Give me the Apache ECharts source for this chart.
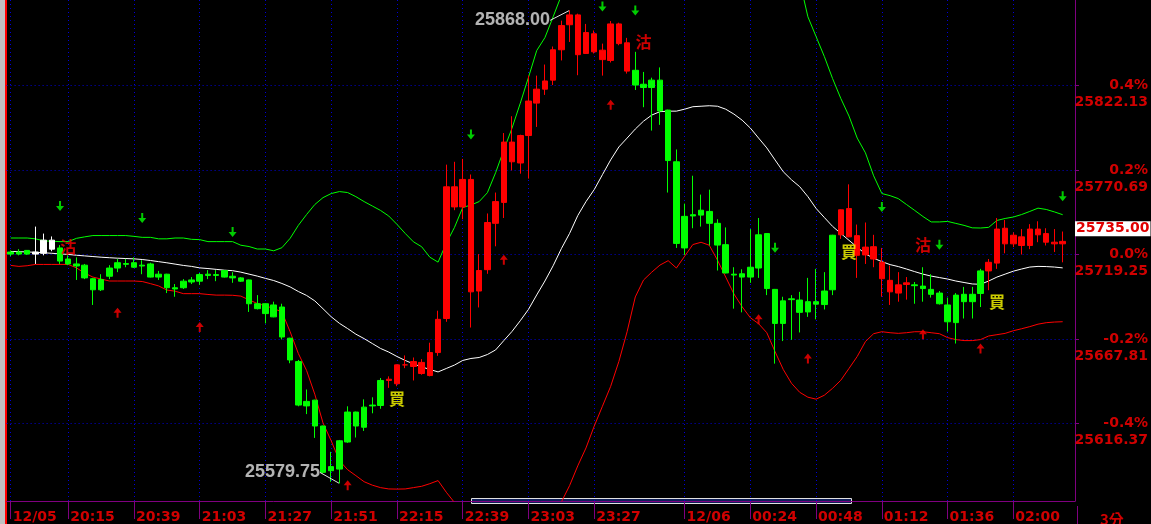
<!DOCTYPE html>
<html><head><meta charset="utf-8">
<script src="https://cdn.jsdelivr.net/npm/echarts@6/dist/echarts.min.js"></script>
<style>html,body{margin:0;padding:0;background:#000;}#c{width:1151px;height:524px;}</style>
</head><body><div id="c"></div>
<script>
// ---------- DATA ----------
const startTime = '19:54';       // first bar time, 3-minute bars
const barMinutes = 3;
const categoryCount = 130;
const tickIdx  = [0,7,15,23,31,39,47,55,63,71,82,90,98,106,114,122];
const tickText = ['12/05','20:15','20:39','21:03','21:27','21:51','22:15','22:39','23:03','23:27','12/06','00:24','00:48','01:12','01:36','02:00'];
const levelValues = [25822.13, 25770.69, 25719.25, 25667.81, 25616.37];
const levelPct    = ['0.4%', '0.2%', '0.0%', '-0.2%', '-0.4%'];
const yMin = 25569.05, yMax = 25874.33;
const tagPrice = 25735.00;
// [open, close, low, high]
const candles = [
[25720.75,25719.5,25718.25,25721.75],[25720.75,25719.5,25718.75,25722.5],[25721.75,25719.5,25719,25722],[25719.5,25720.75,25713.5,25736.25],[25720,25728,25718.75,25732],
[25722.5,25728,25721.25,25730.25],[25723.25,25715.25,25713.5,25725],[25716.5,25713.5,25712.75,25718.75],[25713.5,25712.25,25703.75,25717.5],[25712.75,25705,25704.25,25713.5],
[25704.5,25697.75,25688.5,25705],[25697.75,25704,25697,25707.25],[25706,25711,25704.25,25712.75],[25711,25714.25,25708.5,25716.5],[25713.75,25713.25,25711.5,25716.5],
[25714.25,25711.5,25711,25717.5],[25712.25,25712.75,25707.25,25715.75],[25713.5,25705.5,25705.25,25714.25],[25705.5,25707.25,25703.75,25709.25],[25707.25,25699,25695.75,25707.5],
[25699,25698.25,25693.5,25701.25],[25699,25703,25698.25,25704.25],[25702.5,25703.75,25701.25,25705.5],[25703,25707,25700.75,25708],[25706.5,25707.25,25704.25,25709.75],
[25707,25706.5,25703,25709.75],[25709.5,25705.5,25705.25,25709.75],[25706,25705,25702,25708.5],[25705,25703,25702.5,25705.5],[25703.75,25689.25,25684.25,25704],
[25689.25,25686.25,25685.75,25694.5],[25689.25,25683.25,25677.25,25689.5],[25688.5,25681.25,25681,25690.5],[25687.25,25669,25667.5,25689.25],[25668.25,25655,25653,25668.5],
[25654,25627.5,25626.75,25655],[25627,25629.75,25622,25637],[25630.5,25614.75,25607.5,25630.75],[25614.75,25586.5,25585.75,25615],[25587.5,25590,25580.75,25599],
[25588.5,25605.75,25579.75,25606.25],[25605,25623.25,25604.5,25626.75],[25623.25,25614.75,25607.75,25623.5],[25614,25626.25,25611.75,25631],[25627.5,25627,25622.5,25632.25],
[25627.25,25642.5,25625.25,25644],[25642.5,25643.25,25638,25645],[25640.5,25652,25639,25652.25],[25652,25652,25650,25657.75],[25654,25651,25642.5,25656.5],
[25653.5,25646.75,25646,25655.5],[25645.5,25659.5,25645,25665.5],[25659.5,25679.75,25657.5,25685],[25680.25,25760.5,25678.25,25774],[25760.5,25748.25,25746.25,25775.75],
[25748.25,25765,25740.75,25777.5],[25765,25696.5,25674.75,25768],[25697,25709.5,25687,25719.5],[25710,25738.75,25707.5,25744.25],[25738.25,25751.5,25724.25,25757],
[25751,25787.75,25741.5,25793.25],[25787.75,25775.75,25770.5,25803.5],[25775,25791.75,25768.5,25792.25],[25791.75,25812.75,25765.5,25828.25],[25811.5,25820,25797,25828.25],
[25820,25825,25816.5,25835],[25825.5,25844,25822.5,25846],[25844,25858.75,25837.5,25861.75],[25859.25,25865.25,25848.75,25868],[25865.25,25841,25828.5,25866],
[25841.75,25854.5,25841.5,25859.75],[25853.75,25842.75,25841.75,25855.75],[25843.75,25838,25828.25,25847.75],[25837.5,25859.75,25836.25,25861.5],[25859.75,25847.75,25846.75,25860.5],
[25848.25,25831,25829.5,25851.25],[25831.5,25822.5,25819.5,25842.75],[25823,25821,25809,25830.5],[25821,25825.5,25794.75,25827],[25825.5,25806.75,25798.25,25833.25],
[25807.25,25776.5,25757,25807.5],[25775.75,25726,25723.25,25783.25],[25723.25,25742.5,25719,25750.25],[25742.75,25743.5,25735.25,25767.25],[25743.25,25746.25,25736.25,25755.75],
[25745.5,25738.25,25724.75,25758.75],[25738.25,25725,25709.5,25740.75],[25725.25,25708,25707.75,25735.75],[25707.25,25706.75,25686.25,25711.5],[25707.5,25705.5,25684,25710.25],
[25705.5,25711.5,25702,25734.75],[25711,25731.25,25705,25741.5],[25732,25698.5,25694.5,25732.25],[25698,25677.25,25652.75,25698.25],[25677.25,25691,25666.5,25693.5],
[25692.25,25691.75,25667.25,25694.5],[25691.5,25684,25671.75,25696.5],[25684.25,25690.5,25681.25,25705],[25690.5,25689,25679.75,25710.5],[25688.75,25697,25685.75,25708.5],
[25697.75,25731,25694.5,25731.25],[25731.25,25746.5,25728.75,25746.75],[25747.25,25730,25729.75,25762],[25730.75,25718.75,25705,25737.5],[25719,25723.75,25713.5,25738.75],
[25724,25716.5,25711.5,25731.25],[25714.5,25704.5,25693.5,25723.25],[25703.5,25696.5,25688.5,25712.5],[25695.75,25700.75,25690.5,25708.5],[25701,25702,25691.75,25705.5],
[25700.75,25700.25,25689.25,25702.5],[25700,25698.5,25690.5,25711.5],[25698,25695,25693,25707.25],[25695.75,25689.25,25688.75,25697],[25688.5,25678.25,25672.25,25693],
[25677.75,25694.5,25665,25695.75],[25695,25690.5,25680.25,25699.5],[25690.5,25695,25680.25,25699.5],[25695.5,25709.25,25687.25,25710.5],[25709.25,25714.5,25697.5,25716.5],
[25714,25734.75,25710.5,25741.5],[25735.25,25725.75,25720,25740.25],[25725.75,25731,25723.75,25732.75],[25730,25724.75,25719.25,25734.75],[25724.75,25734.75,25722.5,25737.75],
[25734.75,25731.25,25726.75,25739.5],[25732,25726.75,25724.75,25735.25],[25726.75,25725.75,25720.75,25734.75],[25725.75,25727.25,25714.5,25733.25]
];
const upperBand = [
25729.3,25729.3,25729.3,25728.8,25727.6,25727.3,25727.1,25727.1,25729.1,25730.0,
25730.8,25730.8,25730.8,25730.8,25730.8,25730.3,25729.7,25729.7,25728.8,25728.8,
25729.3,25729.3,25728.5,25728.3,25727.1,25727.1,25727.1,25727.1,25724.9,25724.1,
25722.6,25722.6,25721.5,25723.4,25729.1,25737.0,25743.6,25749.7,25753.9,25756.4,
25757.6,25757.0,25754.5,25751.5,25748.8,25746.1,25742.7,25737.6,25732.1,25727.0,
25724.0,25717.6,25714.6,25726.1,25735.8,25747.9,25749.4,25751.5,25756.9,25769.1,
25783.0,25796.3,25811.4,25827.2,25843.5,25851.4,25864.1,25877.1,25885.9,25895.5,
25901.6,25902.8,25908.9,25914.9,25915.5,25908.2,25898.0,25897.4,25899.8,25899.8,
25897.7,25902.2,25897.4,25893.1,25892.5,25895.0,25903.4,25910.1,25914.3,25914.9,
25911.9,25903.4,25896.7,25893.7,25890.1,25888.9,25885.9,25864.1,25852.0,25839.9,
25826.5,25814.4,25803.6,25790.2,25781.2,25767.2,25756.4,25755.1,25753.3,25749.7,
25746.1,25742.4,25739.1,25739.1,25739.4,25738.2,25737.0,25735.5,25735.4,25735.8,
25740.0,25741.2,25742.1,25743.6,25745.5,25747.5,25746.7,25745.2,25743.5];
const middleBand = [
25721.1,25721.0,25720.8,25720.6,25720.3,25720.0,25719.6,25719.3,25718.8,25718.4,
25718.0,25717.6,25717.3,25717.0,25716.8,25716.6,25716.2,25715.6,25714.9,25714.2,
25713.4,25712.6,25712.0,25711.1,25710.7,25710.2,25709.7,25709.4,25708.5,25707.3,
25706.1,25704.7,25703.4,25701.6,25699.5,25696.7,25694.3,25691.0,25686.2,25681.3,
25677.3,25674.1,25670.7,25668.0,25665.0,25662.0,25659.8,25657.1,25654.7,25652.6,
25650.8,25649.2,25647.7,25649.8,25651.9,25654.7,25655.9,25656.5,25658.3,25661.1,
25666.8,25672.4,25678.9,25685.8,25694.6,25703.1,25712.4,25722.8,25732.1,25743.0,
25751.5,25758.8,25767.9,25776.9,25784.8,25790.2,25795.7,25800.5,25804.2,25806.3,
25806.6,25806.6,25807.8,25809.3,25809.6,25809.9,25809.6,25807.8,25804.8,25801.1,
25796.3,25790.2,25784.2,25776.9,25769.7,25764.8,25760.6,25754.5,25747.3,25741.8,
25736.4,25732.1,25727.9,25723.7,25719.6,25717.0,25714.9,25713.1,25711.9,25710.4,
25708.8,25707.3,25706.1,25705.2,25704.3,25703.1,25702.2,25701.3,25701.1,25703.1,
25705.5,25707.3,25709.1,25710.4,25711.6,25712.0,25711.9,25711.6,25711.1];
const lowerBand = [
25712.6,25712.0,25712.4,25713.2,25713.2,25713.2,25713.2,25713.2,25711.1,25707.9,
25705.5,25704.3,25703.1,25703.1,25703.1,25703.1,25702.8,25701.5,25700.1,25697.6,
25696.9,25695.4,25695.4,25695.4,25694.9,25694.5,25694.5,25694.4,25693.9,25691.6,
25689.4,25688.0,25686.3,25684.3,25672.2,25658.9,25648.6,25634.1,25616.6,25605.7,
25593.6,25588.1,25584.5,25580.8,25578.7,25577.2,25576.4,25576.3,25576.4,25577.2,
25578.0,25579.6,25581.5,25574.4,25568.1,25561.5,25562.4,25561.5,25559.7,25553.3,
25550.6,25548.5,25546.4,25544.5,25545.7,25554.8,25560.6,25568.4,25578.4,25590.5,
25601.4,25614.7,25626.8,25638.9,25654.1,25672.2,25693.4,25703.7,25708.5,25712.8,
25715.5,25711.0,25718.2,25725.3,25726.7,25724.9,25715.8,25705.5,25695.2,25687.4,
25680.7,25677.1,25671.6,25660.1,25649.2,25640.8,25635.3,25632.3,25631.1,25633.5,
25637.7,25642.6,25649.8,25657.1,25666.2,25671.0,25672.2,25671.6,25671.2,25671.6,
25672.2,25672.2,25671.6,25671.0,25668.6,25667.4,25666.8,25666.8,25667.4,25669.6,
25670.4,25671.2,25672.8,25674.0,25675.3,25676.8,25677.7,25678.1,25678.3];
const sellAt = [6, 76, 110];     // bars where state turns to sell (green)
const buyAt  = [46, 101, 119];   // bars where state turns to buy (red)
const downArrows = [[6,25748.8],[16,25741.5],[27,25733.0],[56,25792.4],[72,25870.4],[76,25868.0],[93,25723.4],[106,25748.2],[113,25725.2],[128,25754.8]];
const upArrows   = [[13,25683.7],[23,25675.0],[41,25578.7],[60,25716.1],[73,25810.5],[91,25679.8],[97,25655.9],[111,25670.7],[118,25661.9]];
const sellMarks = [[7,25723.7],[77,25848.9],[111,25725.2]];
const buyMarks  = [[47,25631.1],[102,25720.6],[120,25690.4]];
const extremes  = [[68,25868.00],[40,25579.75]];

// ---------- BUILD ----------
const [sh, sm] = startTime.split(':').map(Number);
const categories = [];
for (let i = 0; i < categoryCount; i++) {
  const t = (sh * 60 + sm + i * barMinutes) % 1440;
  categories.push(String(Math.floor(t / 60)).padStart(2, '0') + ':' + String(t % 60).padStart(2, '0'));
}
const tickMap = {}; tickIdx.forEach((k, j) => tickMap[k] = tickText[j]);
const RED = '#ff0000', GREEN = '#00ff00', WHITE = '#ffffff';
function stateColor(i, c) {
  let s = 'n', last = -1;
  sellAt.forEach(k => { if (k <= i && k > last) { last = k; s = 's'; } });
  buyAt.forEach(k => { if (k <= i && k > last) { last = k; s = 'b'; } });
  if (s === 's') return GREEN;
  if (s === 'b') return RED;
  return c[1] >= c[0] ? WHITE : GREEN;
}
const kData = candles.map((c, i) => {
  const col = stateColor(i, c);
  return { value: c, itemStyle: { color: col, color0: col, borderColor: col, borderColor0: col } };
});
const AX_FONT = { fontFamily: 'DejaVu Sans', fontWeight: 'bold', fontSize: 14 };
const gridStyle = { color: '#0000d8', width: 1, type: [1, 3] };
const CJK = { fontSize: 16, fontWeight: 'bold', fontFamily: 'Noto Sans CJK TC' };

const chart = echarts.init(document.getElementById('c'), null, { renderer: 'canvas' });
chart.setOption({
  backgroundColor: '#000',
  animation: false,
  grid: { left: 6.6, right: 74, top: 0, bottom: 18, containLabel: false },
  xAxis: {
    type: 'category', data: categories, boundaryGap: true,
    axisLine: { show: true, lineStyle: { color: '#800080', width: 1 } },
    axisTick: { show: true, alignWithLabel: true, interval: (i) => i in tickMap, length: 18, lineStyle: { color: '#800080' } },
    axisLabel: Object.assign({ interval: (i) => i in tickMap, formatter: (v, i) => tickMap[i] || '', align: 'left', color: '#d00000', margin: 9, padding: [0, 0, 0, 2] }, AX_FONT),
    splitLine: { show: false }
  },
  yAxis: {
    type: 'value', position: 'right', min: yMin, max: yMax, scale: true,
    axisLine: { show: true, lineStyle: { color: '#800080', width: 1 } },
    axisTick: { show: true, customValues: levelValues, length: 4, lineStyle: { color: '#800080' } },
    axisLabel: Object.assign({
      customValues: levelValues, align: 'right', margin: 73, color: '#d00000', lineHeight: 17,
      formatter: (v) => {
        let j = 0, d = Infinity;
        levelValues.forEach((lv, k) => { if (Math.abs(lv - v) < d) { d = Math.abs(lv - v); j = k; } });
        return ' \n' + levelPct[j] + '\n' + levelValues[j].toFixed(2);
      }
    }, AX_FONT),
    splitLine: { show: false }
  },
  series: [
    { name: 'lower', type: 'line', data: lowerBand, symbol: 'none', z: 2, lineStyle: { color: '#ff0000', width: 1 },
      markLine: { z: 1, silent: true, symbol: ['none', 'none'], label: { show: false }, lineStyle: gridStyle,
        data: levelValues.map(v => ({ yAxis: v })).concat(tickIdx.map(i => ({ xAxis: i }))) } },
    { name: 'upper', type: 'line', data: upperBand, symbol: 'none', z: 3, lineStyle: { color: '#00ff00', width: 1 } },
    { name: 'middle', type: 'line', data: middleBand, symbol: 'none', z: 3, lineStyle: { color: '#ffffff', width: 1 } },
    { name: 'K', type: 'candlestick', data: kData, barWidth: 6, z: 4, clip: true,
      itemStyle: { borderWidth: 1 },
      markLine: { z: 6, silent: true, symbol: ['none', 'none'], lineStyle: { color: 'rgba(0,0,0,0)', width: 1 },
        label: Object.assign({ show: true, position: 'end', distance: 0, formatter: () => tagPrice.toFixed(2), color: '#e00000', backgroundColor: '#ffffff', padding: [1, 1, 0, 1] }, AX_FONT),
        data: [{ yAxis: tagPrice }] } },
    { name: 'down', type: 'scatter', data: downArrows, z: 5, symbol: 'path://M3,0H5V5H8L4,10L0,5H3Z', symbolSize: [8, 10], itemStyle: { color: '#00ff00' } },
    { name: 'up', type: 'scatter', data: upArrows, z: 5, symbol: 'path://M4,0L8,5H5V10H3V5H0Z', symbolSize: [8, 10], itemStyle: { color: '#ff0000' } },
    { name: 'sell', type: 'scatter', data: sellMarks, z: 6, symbolSize: 1, itemStyle: { color: 'rgba(0,0,0,0)' },
      label: Object.assign({ show: true, position: 'inside', formatter: '沽', color: '#ff0000' }, CJK) },
    { name: 'buy', type: 'scatter', data: buyMarks, z: 6, symbolSize: 1, itemStyle: { color: 'rgba(0,0,0,0)' },
      label: Object.assign({ show: true, position: 'inside', formatter: '買', color: '#ffff00' }, CJK) },
    { name: 'ext', type: 'scatter', data: extremes, z: 6, symbolSize: 1, itemStyle: { color: 'rgba(0,0,0,0)' },
      label: { show: true, position: 'inside', formatter: (p) => p.value[1].toFixed(2), color: '#e0e0e0', fontSize: 18, fontWeight: 'bold', fontFamily: 'Liberation Sans' },
      labelLayout: (p) => p.dataIndex === 0 ? { dx: -57, dy: 10 } : { dx: -57, dy: -11 },
      labelLine: { show: true, lineStyle: { color: '#e0e0e0', width: 1 } } }
  ],
  graphic: [
    { type: 'rect', shape: { x: 0, y: 0, width: 5, height: 524 }, style: { fill: '#c0c0c0' }, silent: true },
    { type: 'rect', shape: { x: 5, y: 0, width: 2, height: 524 }, style: { fill: '#ff0000' }, silent: true },
    { type: 'line', shape: { x1: 1077.5, y1: 506, x2: 1077.5, y2: 524 }, style: { stroke: '#800080', lineWidth: 1 }, silent: true },
    { type: 'rect', shape: { x: 471.5, y: 498.5, width: 380, height: 5 }, style: { fill: '#0e1e58', stroke: '#e0e0e0', lineWidth: 1 }, silent: true },
    { type: 'text', x: 1100, y: 512, style: { text: '3分', fill: '#d00000', font: 'bold 15px "Noto Sans CJK TC", "DejaVu Sans"' }, silent: true }
  ]
});
</script>
</body></html>
